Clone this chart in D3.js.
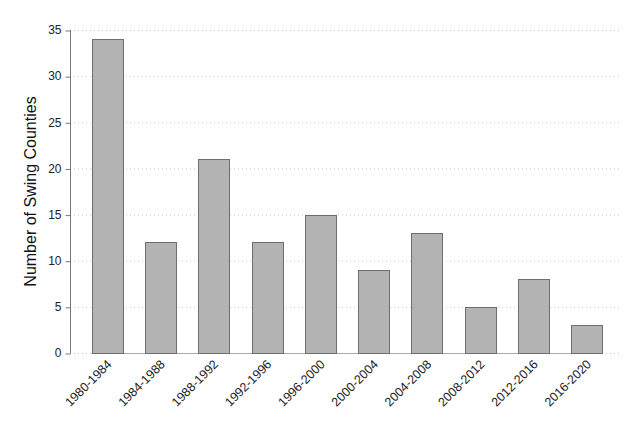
<!DOCTYPE html>
<html><head><meta charset="utf-8">
<script src="https://cdn.jsdelivr.net/npm/d3@7"></script>
<style>body{margin:0;background:#fff}svg{display:block}text{font-family:"Liberation Sans",Arial,sans-serif}</style>
</head><body><svg id="c" width="639" height="426"></svg>
<script>
const categories = ["1980-1984","1984-1988","1988-1992","1992-1996","1996-2000","2000-2004","2004-2008","2008-2012","2012-2016","2016-2020"];
const values = [34,12,21,12,15,9,13,5,8,3];
const yTicks = [0,5,10,15,20,25,30,35];

const svg = d3.select("#c");
const x = d3.scaleBand().domain(categories).range([80.8,613.6]).paddingInner(0.41).paddingOuter(0.205);
const y = d3.scaleLinear().domain([0,35]).range([353,30]);
const axX = 70, gridEnd = 622;

// gridlines
svg.append("g").selectAll("line").data(yTicks).join("line")
  .attr("x1", axX).attr("x2", gridEnd)
  .attr("y1", d=>y(d)+0.5).attr("y2", d=>y(d)+0.5)
  .attr("stroke","#c8c8c8").attr("stroke-dasharray","1,3");

// y axis
const ya = svg.append("g").attr("transform",`translate(${axX+0.5},0)`)
  .call(d3.axisLeft(y).tickValues(yTicks).tickSize(5).tickPadding(4));
ya.select(".domain").attr("stroke","#777").attr("d",`M0,${y(35)}V${y(0)+0.5}`);
ya.selectAll(".tick line").attr("stroke","#777").attr("transform","translate(0,0.5)");
ya.selectAll(".tick text").attr("font-size",12).attr("fill","#222").attr("font-family","Liberation Sans, Arial, sans-serif");

// baseline under bars
svg.append("line").attr("x1", x(categories[0])).attr("x2", x(categories[categories.length-1])+x.bandwidth())
  .attr("y1", y(0)+0.5).attr("y2", y(0)+0.5).attr("stroke","#aaa");

// bars
svg.append("g").selectAll("rect").data(values).join("rect")
  .attr("x",(d,i)=>Math.round(x(categories[i]))+0.5)
  .attr("y",d=>Math.round(y(d))+0.5)
  .attr("width",Math.round(x.bandwidth()))
  .attr("height",d=>Math.round(y(0))-Math.round(y(d)))
  .attr("fill","#b3b3b3").attr("stroke","#6e6e6e").attr("stroke-width",1);

// x labels
svg.append("g").selectAll("text").data(categories).join("text")
  .attr("transform",d=>`translate(${x(d)+x.bandwidth()/2+5},${y(0)+12}) rotate(-45)`)
  .attr("text-anchor","end").attr("font-size",12.5).attr("fill","#222").text(d=>d);

// y title
svg.append("text").attr("transform",`translate(36,${(y(0)+y(35))/2}) rotate(-90)`)
  .attr("text-anchor","middle").attr("font-size",16).attr("fill","#111").text("Number of Swing Counties");
</script></body></html>
